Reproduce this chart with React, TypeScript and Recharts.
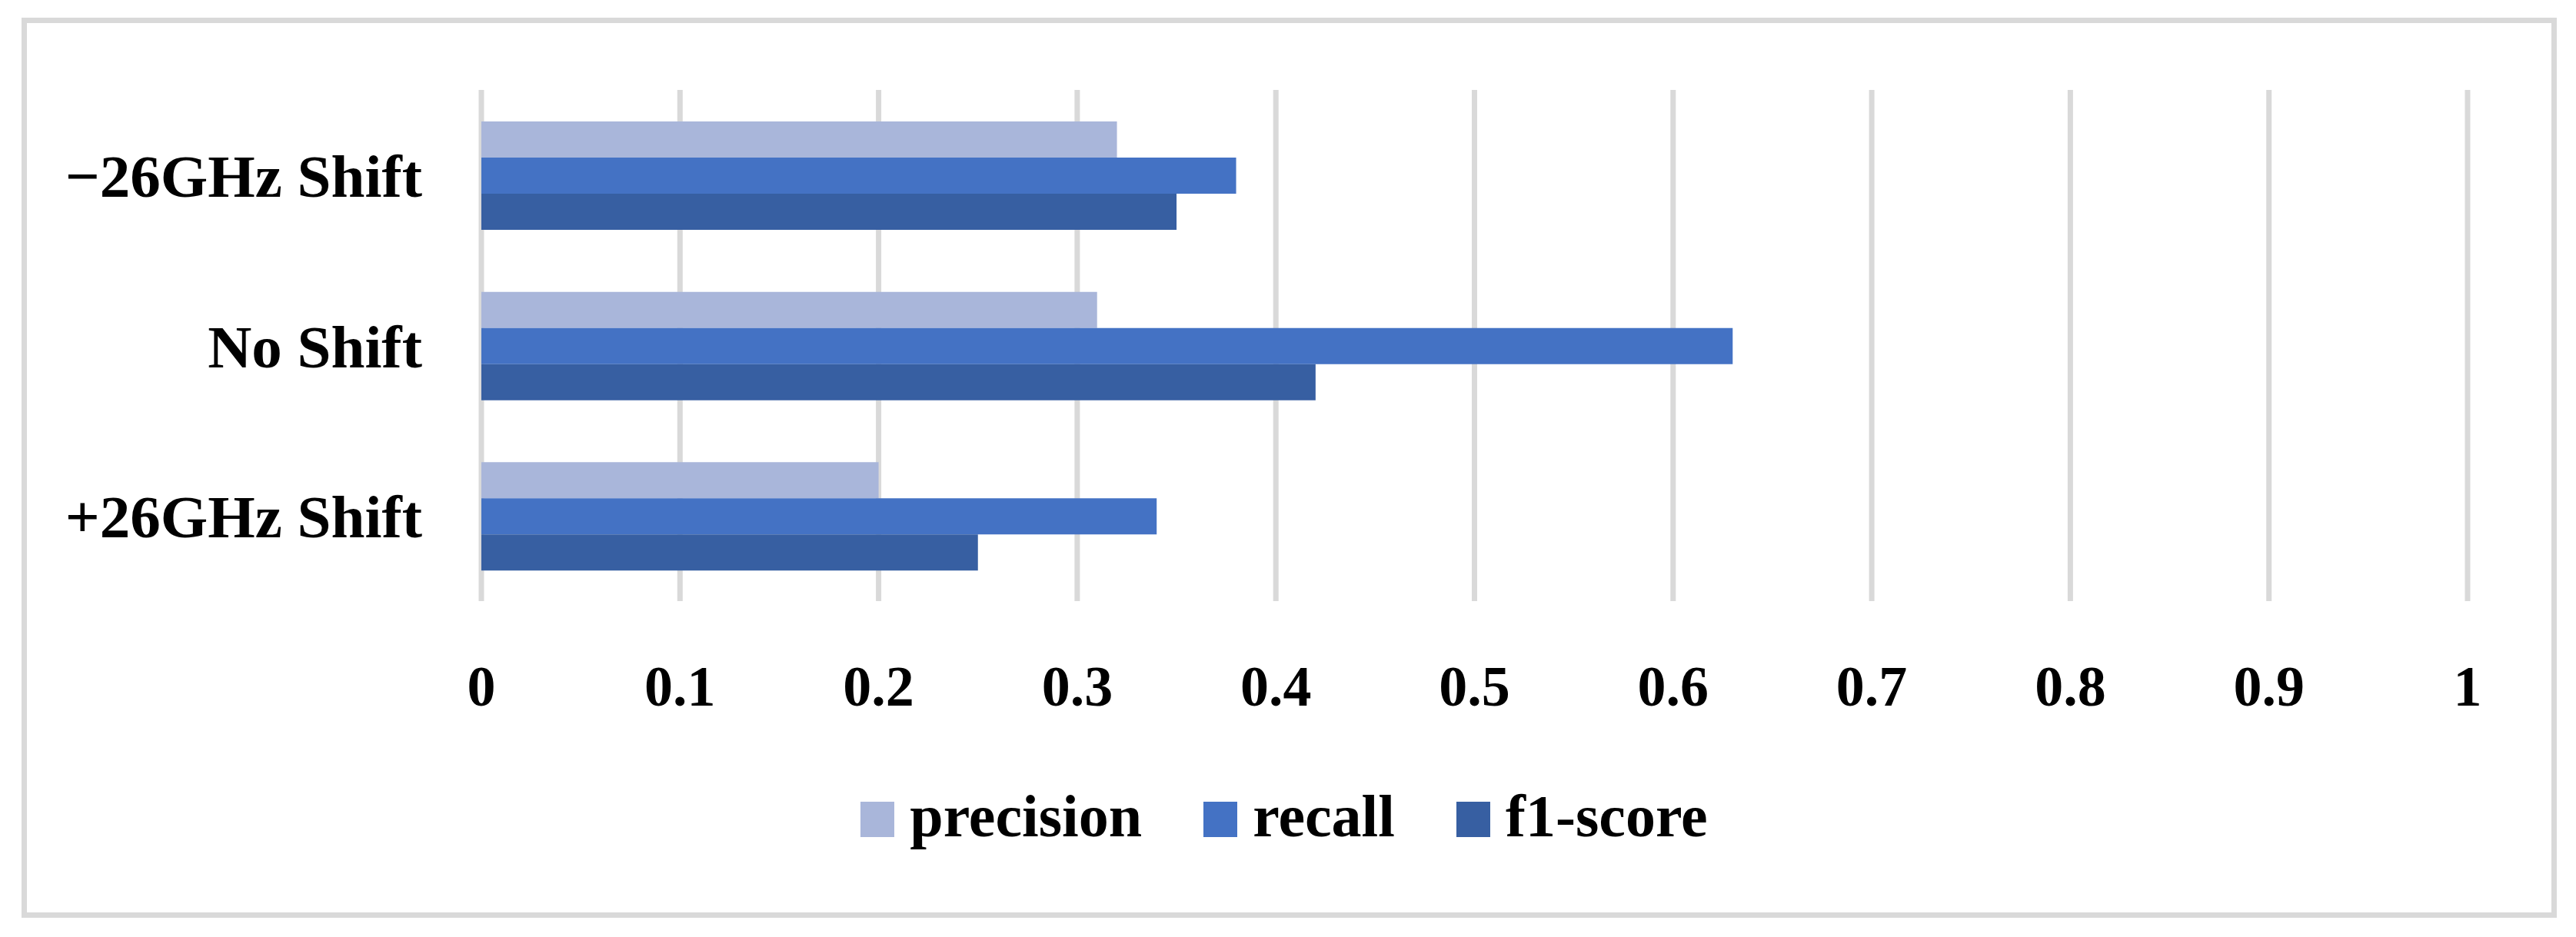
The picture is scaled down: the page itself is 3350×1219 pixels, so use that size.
import React from 'react';
import { BarChart, Bar, XAxis, YAxis, CartesianGrid, Legend } from 'recharts';

const categories = ['\u221226GHz Shift', 'No Shift', '+26GHz Shift'];
const precision = [0.32, 0.31, 0.2];
const recall = [0.38, 0.63, 0.34];
const f1Score = [0.35, 0.42, 0.25];
const xTicks = [0, 0.1, 0.2, 0.3, 0.4, 0.5, 0.6, 0.7, 0.8, 0.9, 1];
const seriesNames = ['precision', 'recall', 'f1-score'];
const seriesColors = ['#A9B6DA', '#4472C4', '#375FA2'];

const data = categories.map((name, i) => ({
  name,
  precision: precision[i],
  recall: recall[i],
  f1: f1Score[i],
}));

const FONT = '"Liberation Serif", "Times New Roman", serif';

const renderLegend = (props: any) => {
  const payload = [...(props.payload || [])].sort(
    (a: any, b: any) => seriesNames.indexOf(a.value) - seriesNames.indexOf(b.value)
  );
  return (
    <div
      style={{
        display: 'flex',
        justifyContent: 'center',
        alignItems: 'center',
        fontFamily: FONT,
        fontWeight: 'bold',
        fontSize: 78,
        lineHeight: '76px',
        height: 76,
      }}
    >
      {payload.map((entry: any, i: number) => (
        <div key={i} style={{ display: 'flex', alignItems: 'center', marginLeft: i === 0 ? 0 : 80 }}>
          <div style={{ width: 44, height: 46, background: entry.color }} />
          <span style={{ marginLeft: 20, position: 'relative', top: -4, color: '#000' }}>{entry.value}</span>
        </div>
      ))}
    </div>
  );
};

export default function App() {
  return (
    <div style={{ position: 'absolute', left: 0, top: 0, width: 3350, height: 1219, background: '#fff' }}>
      <div
        style={{
          position: 'absolute',
          left: 28,
          top: 23,
          width: 3297,
          height: 1171,
          border: '7px solid #D9D9D9',
          boxSizing: 'border-box',
        }}
      />
      <div style={{ position: 'absolute', left: 0, top: 0 }}>
        <BarChart
          width={3350}
          height={1219}
          data={data}
          layout="vertical"
          margin={{ top: 117, right: 141, left: 0, bottom: 0 }}
          barCategoryGap="18.5%"
          barGap={0}
        >
          <CartesianGrid horizontal={false} stroke="#D9D9D9" strokeWidth={7} />
          <XAxis
            type="number"
            domain={[0, 1]}
            ticks={xTicks}
            interval={0}
            height={437}
            axisLine={false}
            tickLine={false}
            tickSize={0}
            tickMargin={83}
            tick={{ fill: '#000', fontSize: 74, fontFamily: FONT, fontWeight: 'bold' }}
          />
          <YAxis
            type="category"
            dataKey="name"
            width={626}
            interval={0}
            axisLine={false}
            tickLine={false}
            tickSize={0}
            tickMargin={77}
            tick={{ fill: '#000', fontSize: 79, fontFamily: FONT, fontWeight: 'bold' }}
          />
          <Legend
            verticalAlign="middle"
            align="center"
            layout="horizontal"
            content={renderLegend}
            wrapperStyle={{ top: 1028, left: 0, width: 3340, height: 76 }}
          />
          <Bar dataKey="precision" name={seriesNames[0]} fill={seriesColors[0]} isAnimationActive={false} />
          <Bar dataKey="recall" name={seriesNames[1]} fill={seriesColors[1]} isAnimationActive={false} />
          <Bar dataKey="f1" name={seriesNames[2]} fill={seriesColors[2]} isAnimationActive={false} />
        </BarChart>
      </div>
    </div>
  );
}
